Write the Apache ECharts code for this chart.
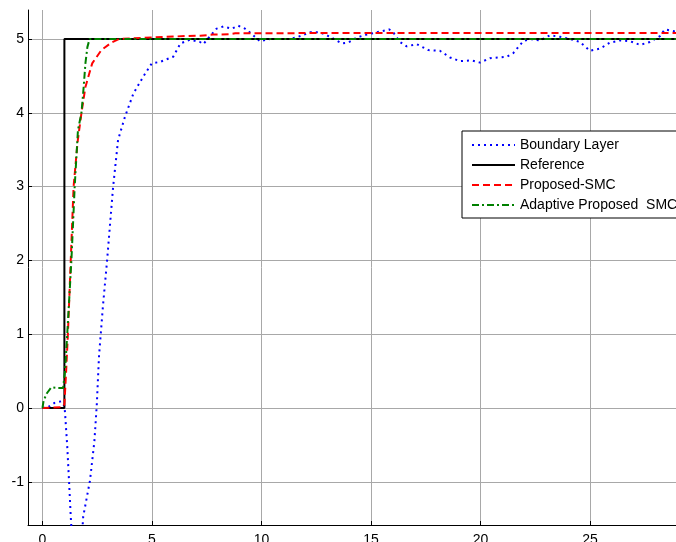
<!DOCTYPE html>
<html>
<head>
<meta charset="utf-8">
<script src="https://cdn.jsdelivr.net/npm/echarts@6/dist/echarts.min.js"></script>
<style>
  html, body { margin: 0; padding: 0; background: #fff; }
  #chart { width: 676px; height: 542px; }
</style>
</head>
<body>
<div id="chart"></div>
<script>
// tick labels
const xTicks = [0, 5, 10, 15, 20, 25];
const yTicks = [-1, 0, 1, 2, 3, 4, 5];

// series (time, value)
const boundaryLayer = [
  [0, 0], [0.3, 0.02], [0.55, 0.07], [0.85, 0.09], [1.0, 0.03], [1.03, -0.07], [1.13, -0.52],
  [1.21, -0.98], [1.29, -1.47], [1.4, -2.0], [1.57, -2.3], [1.74, -2.0], [1.86, -1.47],
  [2.17, -0.98], [2.37, -0.45], [2.48, 0.05], [2.58, 0.7], [2.76, 1.38], [2.95, 2.0],
  [3.22, 2.98], [3.45, 3.63], [3.77, 3.95], [4.15, 4.26], [4.6, 4.49], [4.99, 4.67],
  [5.37, 4.69], [5.97, 4.76], [6.3, 4.94], [6.74, 4.99], [7.19, 4.96], [7.34, 4.93],
  [7.57, 5.01], [7.95, 5.14], [8.26, 5.17], [8.64, 5.14], [8.94, 5.18], [9.25, 5.14],
  [9.55, 5.07], [9.93, 4.97], [10.39, 5.0], [10.84, 5.0], [11.3, 5.0], [11.68, 5.03],
  [12.21, 5.09], [12.67, 5.09], [13.13, 5.03], [13.66, 4.94], [13.96, 4.95], [14.35, 5.02],
  [14.8, 5.06], [15.26, 5.09], [15.83, 5.13], [16.02, 5.09], [16.32, 4.96], [16.63, 4.9],
  [17.09, 4.93], [17.62, 4.85], [18.15, 4.84], [18.61, 4.75], [19.06, 4.7], [19.6, 4.71],
  [19.98, 4.68], [20.43, 4.74], [21.2, 4.76], [21.5, 4.81], [21.95, 4.97], [22.26, 5.0],
  [22.72, 4.98], [23.17, 5.05], [23.63, 5.03], [24.09, 5.0], [24.54, 4.96], [25.0, 4.84],
  [25.46, 4.87], [25.91, 4.95], [26.37, 4.98], [26.83, 4.97], [27.29, 4.92], [27.74, 4.96],
  [28.2, 5.04], [28.42, 5.13], [28.93, 5.1], [30, 5.1]
];
const reference = [[0, 0], [1, 0], [1, 5], [30, 5]];
const proposedSmc = [
  [0, 0], [0.9, 0.01], [1.0, 0.05], [1.08, 0.5], [1.16, 1.0], [1.29, 2.0], [1.42, 3.0],
  [1.6, 3.6], [1.78, 4.0], [1.96, 4.35], [2.27, 4.67], [2.69, 4.85], [3.14, 4.95],
  [3.5, 5.0], [5.0, 5.02], [6.5, 5.04], [7.2, 5.045], [7.8, 5.06], [8.5, 5.065],
  [8.8, 5.077], [12, 5.08], [30, 5.08]
];
const adaptiveSmc = [
  [0, 0], [0.05, 0.1], [0.2, 0.2], [0.4, 0.28], [0.71, 0.27], [0.94, 0.27], [1.03, 0.5],
  [1.13, 1.0], [1.32, 2.0], [1.47, 3.0], [1.62, 3.77], [1.78, 4.0], [1.88, 4.35],
  [1.96, 4.67], [2.05, 4.89], [2.15, 5.0], [30, 5.0]
];

const font = 'Liberation Sans, Arial, sans-serif';

const chart = echarts.init(document.getElementById('chart'));
chart.setOption({
  backgroundColor: '#fff',
  animation: false,
  grid: { left: 28, top: 10, right: 0, bottom: 17, containLabel: false, outerBoundsMode: 'none' },
  xAxis: {
    type: 'value',
    min: -0.662,
    max: 28.93,
    axisLine: { show: true, onZero: false, lineStyle: { color: '#000', width: 1 } },
    axisTick: { show: true, inside: true, length: 4, customValues: xTicks, lineStyle: { color: '#000' } },
    axisLabel: { customValues: xTicks, color: '#000', fontSize: 14, fontFamily: font, margin: 8 },
    splitLine: { show: true, lineStyle: { color: '#a8a8a8', width: 1 } }
  },
  yAxis: {
    type: 'value',
    min: -1.585,
    max: 5.393,
    axisLine: { show: true, onZero: false, lineStyle: { color: '#000', width: 1 } },
    axisTick: { show: true, inside: true, length: 4, customValues: yTicks, lineStyle: { color: '#000' } },
    axisLabel: { customValues: yTicks, color: '#000', fontSize: 14, fontFamily: font, margin: 4 },
    splitLine: { show: true, lineStyle: { color: '#a8a8a8', width: 1 } }
  },
  legend: {
    orient: 'vertical',
    left: 462,
    top: 131,
    padding: [7, 40, 6, 9],
    itemWidth: 43,
    itemHeight: 14,
    itemGap: 6,
    backgroundColor: '#fff',
    borderColor: '#000',
    borderWidth: 1,
    borderRadius: 0,
    itemStyle: { opacity: 0 },
    textStyle: { color: '#000', fontSize: 14, fontFamily: font },
    data: ['Boundary Layer', 'Reference', 'Proposed-SMC', 'Adaptive Proposed  SMC']
  },
  series: [
    {
      name: 'Boundary Layer', type: 'line', data: boundaryLayer, symbol: 'none', clip: true,
      lineStyle: { color: '#0000ff', width: 2, type: [2, 4] }, itemStyle: { color: '#0000ff' }
    },
    {
      name: 'Reference', type: 'line', data: reference, symbol: 'none', clip: true,
      lineStyle: { color: '#000', width: 2, type: 'solid' }, itemStyle: { color: '#000' }
    },
    {
      name: 'Proposed-SMC', type: 'line', data: proposedSmc, symbol: 'none', clip: true,
      lineStyle: { color: '#ff0000', width: 2, type: [7, 4] }, itemStyle: { color: '#ff0000' }
    },
    {
      name: 'Adaptive Proposed  SMC', type: 'line', data: adaptiveSmc, symbol: 'none', clip: true,
      lineStyle: { color: '#008000', width: 2, type: [7, 3, 2, 3] }, itemStyle: { color: '#008000' }
    }
  ]
});
</script>
</body>
</html>
